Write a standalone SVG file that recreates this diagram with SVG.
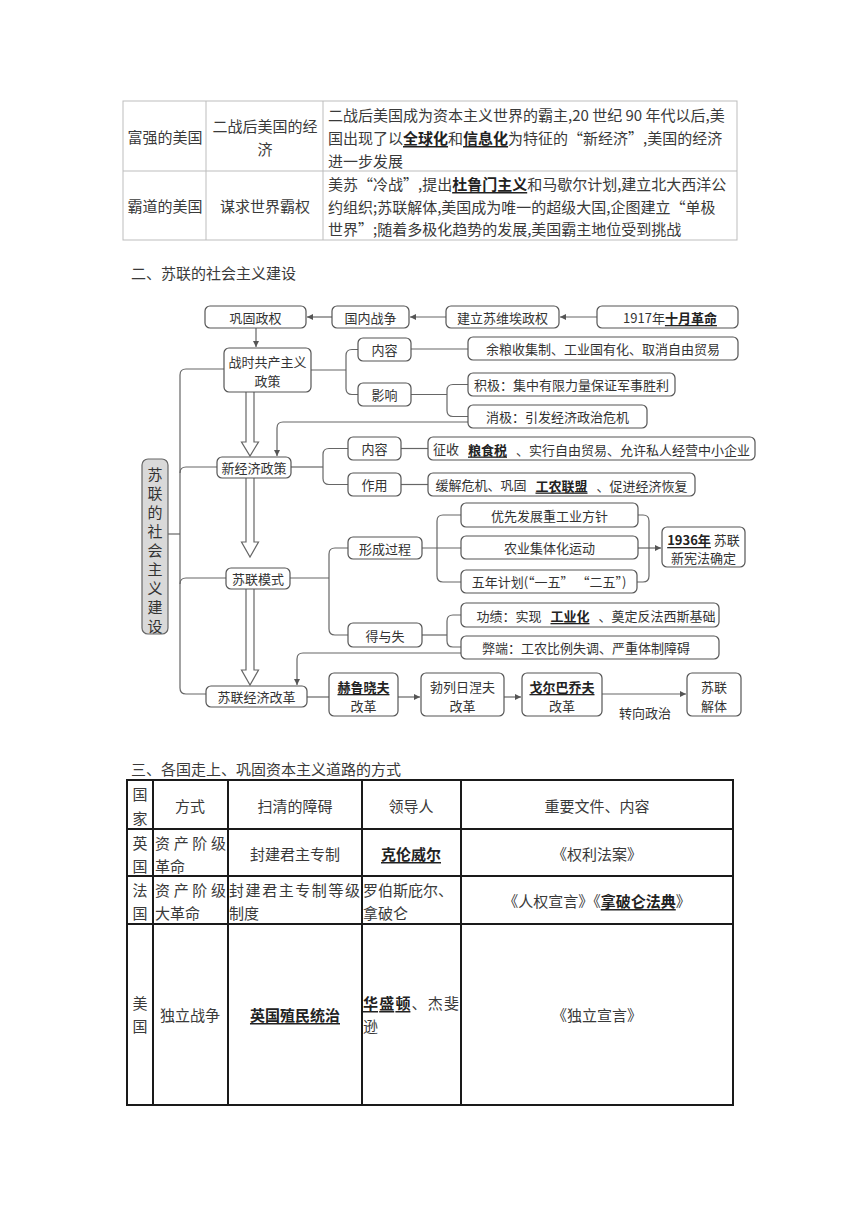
<svg xmlns="http://www.w3.org/2000/svg" width="860" height="1216" viewBox="0 0 860 1216">
<defs>
<style>
text{font-family:"Noto Sans CJK SC","Noto Sans",sans-serif;fill:#333}
.t15{font-size:15px;fill:#3a3a3a}
.t13{font-size:13px;fill:#333}
.c{text-anchor:middle}
.m{dominant-baseline:central}
.b{font-weight:700;fill:#222;text-decoration:underline}
.box{fill:#fff;stroke:#555;stroke-width:1.2}
.ln{fill:none;stroke:#666;stroke-width:1.2}
.big{fill:#fff;stroke:#666;stroke-width:1.2}
.tb1{fill:none;stroke:#bdbdbd;stroke-width:1}
.tb2{fill:none;stroke:#1a1a1a;stroke-width:2}
</style>
<marker id="ah" markerWidth="6" markerHeight="6" refX="6" refY="3" orient="auto" markerUnits="userSpaceOnUse">
<path d="M0,0 L6,3 L0,6 z" fill="#555"/>
</marker>
</defs>
<rect width="860" height="1216" fill="#fff"/>

<!-- top table -->
<g id="table1">
<rect class="tb1" x="123" y="101" width="614" height="139"/>
<line class="tb1" x1="123" y1="171" x2="737" y2="171"/>
<line class="tb1" x1="206" y1="101" x2="206" y2="240"/>
<line class="tb1" x1="323" y1="101" x2="323" y2="240"/>
<text class="t15 c m" x="165" y="136">富强的美国</text>
<text class="t15 c m" x="265" y="125">二战后美国的经</text>
<text class="t15 c m" x="265" y="148">济</text>
<text class="t15 m" x="328" y="114">二战后美国成为资本主义世界的霸主,20 世纪 90 年代以后,美</text>
<text class="t15 m" x="328" y="137">国出现了以<tspan class="b">全球化</tspan>和<tspan class="b">信息化</tspan>为特征的“新经济”,美国的经济</text>
<text class="t15 m" x="328" y="160">进一步发展</text>
<text class="t15 c m" x="165" y="205">霸道的美国</text>
<text class="t15 c m" x="265" y="205">谋求世界霸权</text>
<text class="t15 m" x="328" y="183">美苏“冷战”,提出<tspan class="b">杜鲁门主义</tspan>和马歇尔计划,建立北大西洋公</text>
<text class="t15 m" x="328" y="206">约组织;苏联解体,美国成为唯一的超级大国,企图建立“单极</text>
<text class="t15 m" x="328" y="228">世界”;随着多极化趋势的发展,美国霸主地位受到挑战</text>
</g>

<text id="heading2" class="t15 m" x="131" y="272">二、苏联的社会主义建设</text>

<!-- connectors -->
<g id="connectors">
<path class="ln" d="M597,317 H560" marker-end="url(#ah)"/>
<path class="ln" d="M446,317 H410" marker-end="url(#ah)"/>
<path class="ln" d="M332,317 H307" marker-end="url(#ah)"/>
<path class="ln" d="M256,328 V347" marker-end="url(#ah)"/>
<path class="ln" d="M311,370 H346"/>
<path class="ln" d="M358,349.5 H352 Q346,349.5 346,355.5 V388.5 Q346,394.5 352,394.5 H358"/>
<path class="ln" d="M411,349 H468"/>
<path class="ln" d="M411,394.5 H447"/>
<path class="ln" d="M468,384.5 H453 Q447,384.5 447,390.5 V410.5 Q447,416.5 453,416.5 H468"/>
<path class="ln" d="M468,422 H283 Q277,422 277,428 V456" marker-end="url(#ah)"/>
<path class="ln" d="M224,369 H186 Q180,369 180,375 V688 Q180,694 186,694 H206"/>
<path class="ln" d="M180,473 Q180,467 186,467 H217"/>
<path class="ln" d="M180,584 Q180,578 186,578 H226"/>
<path class="ln" d="M168,534 H180"/>
<path class="ln" d="M291,467 H323"/>
<path class="ln" d="M348,448.5 H329 Q323,448.5 323,454.5 V478.5 Q323,484.5 329,484.5 H348"/>
<path class="ln" d="M401,448.5 H428"/>
<path class="ln" d="M401,484.5 H428"/>
<path class="ln" d="M290,578 H329"/>
<path class="ln" d="M348,548 H335 Q329,548 329,554 V629 Q329,635 335,635 H348"/>
<path class="ln" d="M422,548 H461"/>
<path class="ln" d="M461,515 H443 Q437,515 437,521 V576 Q437,582 443,582 H461"/>
<path class="ln" d="M638,515 H643 Q649,515 649,521 V576 Q649,582 643,582 H637"/>
<path class="ln" d="M638,548 H661" marker-end="url(#ah)"/>
<path class="ln" d="M422,635 H447"/>
<path class="ln" d="M461,615 H453 Q447,615 447,621 V641 Q447,647 453,647 H461"/>
<path class="ln" d="M461,653 H303 Q297,653 297,659 V685" marker-end="url(#ah)"/>
<path class="ln" d="M307,697 H329"/>
<path class="ln" d="M398,697 H420" marker-end="url(#ah)"/>
<path class="ln" d="M504,697 H521" marker-end="url(#ah)"/>
<path class="ln" d="M602,694 H686" marker-end="url(#ah)"/>
<path class="big" d="M246,392 V442 H241.5 L250,456 L258.5,442 H254 V392"/>
<path class="big" d="M246,478 V542 H241.5 L250,557 L258.5,542 H254 V478"/>
<path class="big" d="M246,589 V670 H241.5 L250,685 L258.5,670 H254 V589"/>
<text class="t13 c m" x="645" y="712">转向政治</text>
</g>

<!-- nodes -->
<g id="n_gonggu"><rect class="box" x="205" y="306" width="101" height="22" rx="5"/><text class="t13 c m" x="255.5" y="317">巩固政权</text></g>
<g id="n_guonei"><rect class="box" x="332" y="306" width="77" height="22" rx="5"/><text class="t13 c m" x="370.5" y="317">国内战争</text></g>
<g id="n_jianli"><rect class="box" x="446" y="306" width="113" height="22" rx="5"/><text class="t13 c m" x="502.5" y="317">建立苏维埃政权</text></g>
<g id="n_1917"><rect class="box" x="597" y="306" width="141" height="22" rx="5"/><text class="t13 c m" x="670" y="317">1917年<tspan class="b">十月革命</tspan></text></g>
<g id="n_zhanshi"><rect class="box" x="224" y="348" width="87" height="44" rx="5"/><text class="t13 c m" x="267.5" y="361">战时共产主义</text><text class="t13 c m" x="267.5" y="380">政策</text></g>
<g id="n_neirong1"><rect class="box" x="358" y="338" width="53" height="23" rx="5"/><text class="t13 c m" x="384.5" y="349.5">内容</text></g>
<g id="n_yingxiang"><rect class="box" x="358" y="383" width="53" height="23" rx="5"/><text class="t13 c m" x="384.5" y="394.5">影响</text></g>
<g id="n_yuliang"><rect class="box" x="468" y="337" width="270" height="23" rx="5"/><text class="t13 c m" x="603" y="348.5">余粮收集制、工业国有化、取消自由贸易</text></g>
<g id="n_jiji"><rect class="box" x="468" y="373" width="207" height="23" rx="5"/><text class="t13 c m" x="571.5" y="384.5">积极：集中有限力量保证军事胜利</text></g>
<g id="n_xiaoji"><rect class="box" x="468" y="405" width="179" height="23" rx="5"/><text class="t13 c m" x="557.5" y="416.5">消极：引发经济政治危机</text></g>
<g id="n_xinjingji"><rect class="box" x="217" y="457" width="74" height="21" rx="5"/><text class="t13 c m" x="254" y="467.5">新经济政策</text></g>
<g id="n_neirong2"><rect class="box" x="348" y="437" width="53" height="23" rx="5"/><text class="t13 c m" x="374.5" y="448.5">内容</text></g>
<g id="n_zuoyong"><rect class="box" x="348" y="473" width="53" height="23" rx="5"/><text class="t13 c m" x="374.5" y="484.5">作用</text></g>
<g id="n_zhengshou"><rect class="box" x="428" y="437" width="327" height="23" rx="5"/><text class="t13 c m" x="591.5" y="448.5">征收<tspan dx="9" class="b">粮食税</tspan><tspan dx="9">、实行自由贸易、允许私人经营中小企业</tspan></text></g>
<g id="n_huanjie"><rect class="box" x="428" y="473" width="267" height="23" rx="5"/><text class="t13 c m" x="561.5" y="484.5">缓解危机、巩固<tspan dx="9" class="b">工农联盟</tspan><tspan dx="9">、促进经济恢复</tspan></text></g>
<g id="n_moshi"><rect class="box" x="226" y="568" width="64" height="21" rx="5"/><text class="t13 c m" x="258" y="578.5">苏联模式</text></g>
<g id="n_xingcheng"><rect class="box" x="348" y="537" width="74" height="22" rx="5"/><text class="t13 c m" x="385" y="548">形成过程</text></g>
<g id="n_deyushi"><rect class="box" x="348" y="623" width="74" height="24" rx="5"/><text class="t13 c m" x="385" y="635">得与失</text></g>
<g id="n_youxian"><rect class="box" x="461" y="503" width="177" height="24" rx="5"/><text class="t13 c m" x="549.5" y="515">优先发展重工业方针</text></g>
<g id="n_nongye"><rect class="box" x="461" y="536" width="177" height="23" rx="5"/><text class="t13 c m" x="549.5" y="547.5">农业集体化运动</text></g>
<g id="n_wunian"><rect class="box" x="461" y="570" width="176" height="23" rx="5"/><text class="t13 c m" x="549" y="581.5">五年计划(“一五” “二五”)</text></g>
<g id="n_1936"><rect class="box" x="662" y="527" width="83" height="40" rx="5"/><text class="t13 c m" x="703.5" y="539"><tspan class="b">1936年</tspan> 苏联</text><text class="t13 c m" x="703.5" y="557">新宪法确定</text></g>
<g id="n_gongji"><rect class="box" x="461" y="603" width="258" height="24" rx="5"/><text class="t13 c m" x="596" y="615">功绩：实现<tspan dx="9" class="b">工业化</tspan><tspan dx="9">、奠定反法西斯基础</tspan></text></g>
<g id="n_biduan"><rect class="box" x="461" y="636" width="258" height="23" rx="5"/><text class="t13 c m" x="586" y="647.5">弊端：工农比例失调、严重体制障碍</text></g>
<g id="n_gaige"><rect class="box" x="206" y="686" width="101" height="21" rx="5"/><text class="t13 c m" x="256.5" y="696.5">苏联经济改革</text></g>
<g id="n_he"><rect class="box" x="329" y="673" width="69" height="43" rx="5"/><text class="t13 c m" x="363.5" y="686"><tspan class="b">赫鲁晓夫</tspan></text><text class="t13 c m" x="363.5" y="705">改革</text></g>
<g id="n_bo"><rect class="box" x="421" y="673" width="83" height="43" rx="5"/><text class="t13 c m" x="462.5" y="686">勃列日涅夫</text><text class="t13 c m" x="462.5" y="705">改革</text></g>
<g id="n_ge"><rect class="box" x="522" y="673" width="80" height="43" rx="5"/><text class="t13 c m" x="562" y="686"><tspan class="b">戈尔巴乔夫</tspan></text><text class="t13 c m" x="562" y="705">改革</text></g>
<g id="n_jieti"><rect class="box" x="687" y="673" width="54" height="43" rx="5"/><text class="t13 c m" x="714" y="686">苏联</text><text class="t13 c m" x="714" y="705">解体</text></g>
<g id="n_left"><rect x="142" y="459" width="26" height="175" rx="6" fill="#d9d9d9" stroke="#666" stroke-width="1.2"/>
<text class="c m" style="font-size:15px" x="155"><tspan x="155" y="473">苏</tspan><tspan x="155" y="492">联</tspan><tspan x="155" y="511">的</tspan><tspan x="155" y="530">社</tspan><tspan x="155" y="549">会</tspan><tspan x="155" y="568">主</tspan><tspan x="155" y="587">义</tspan><tspan x="155" y="606">建</tspan><tspan x="155" y="625">设</tspan></text></g>

<text id="heading3" class="t15 m" x="131" y="768">三、各国走上、巩固资本主义道路的方式</text>

<!-- bottom table -->
<g id="table2">
<rect class="tb2" x="127" y="780" width="606" height="325"/>
<line class="tb2" x1="127" y1="829" x2="733" y2="829"/>
<line class="tb2" x1="127" y1="876" x2="733" y2="876"/>
<line class="tb2" x1="127" y1="924" x2="733" y2="924"/>
<line class="tb2" x1="153" y1="780" x2="153" y2="1105"/>
<line class="tb2" x1="228" y1="780" x2="228" y2="1105"/>
<line class="tb2" x1="362" y1="780" x2="362" y2="1105"/>
<line class="tb2" x1="461" y1="780" x2="461" y2="1105"/>
<text class="t15 c m" x="140" y="793">国</text>
<text class="t15 c m" x="140" y="817">家</text>
<text class="t15 c m" x="190" y="805">方式</text>
<text class="t15 c m" x="295" y="805">扫清的障碍</text>
<text class="t15 c m" x="411" y="805">领导人</text>
<text class="t15 c m" x="597" y="805">重要文件、内容</text>

<text class="t15 c m" x="140" y="842">英</text>
<text class="t15 c m" x="140" y="865">国</text>
<text class="t15 m" x="155" y="842" textLength="71" lengthAdjust="spacing">资产阶级</text>
<text class="t15 m" x="155" y="865">革命</text>
<text class="t15 c m" x="295" y="853">封建君主专制</text>
<text class="t15 c m" x="411" y="853"><tspan class="b">克伦威尔</tspan></text>
<text class="t15 c m" x="597" y="853">《权利法案》</text>

<text class="t15 c m" x="140" y="889">法</text>
<text class="t15 c m" x="140" y="912">国</text>
<text class="t15 m" x="155" y="889" textLength="71" lengthAdjust="spacing">资产阶级</text>
<text class="t15 m" x="155" y="912">大革命</text>
<text class="t15 m" x="229" y="889" textLength="131" lengthAdjust="spacing">封建君主专制等级</text>
<text class="t15 m" x="229" y="912">制度</text>
<text class="t15 m" x="363" y="889">罗伯斯庇尔、</text>
<text class="t15 m" x="363" y="912">拿破仑</text>
<text class="t15 c m" x="597" y="900">《人权宣言》《<tspan class="b">拿破仑法典</tspan>》</text>

<text class="t15 c m" x="140" y="1002">美</text>
<text class="t15 c m" x="140" y="1025">国</text>
<text class="t15 c m" x="190" y="1014">独立战争</text>
<text class="t15 c m" x="295" y="1014"><tspan class="b">英国殖民统治</tspan></text>
<text class="t15 m" x="363" y="1002" textLength="96" lengthAdjust="spacing"><tspan class="b">华盛顿</tspan>、杰斐</text>
<text class="t15 m" x="363" y="1025">逊</text>
<text class="t15 c m" x="597" y="1014">《独立宣言》</text>
</g>
</svg>
